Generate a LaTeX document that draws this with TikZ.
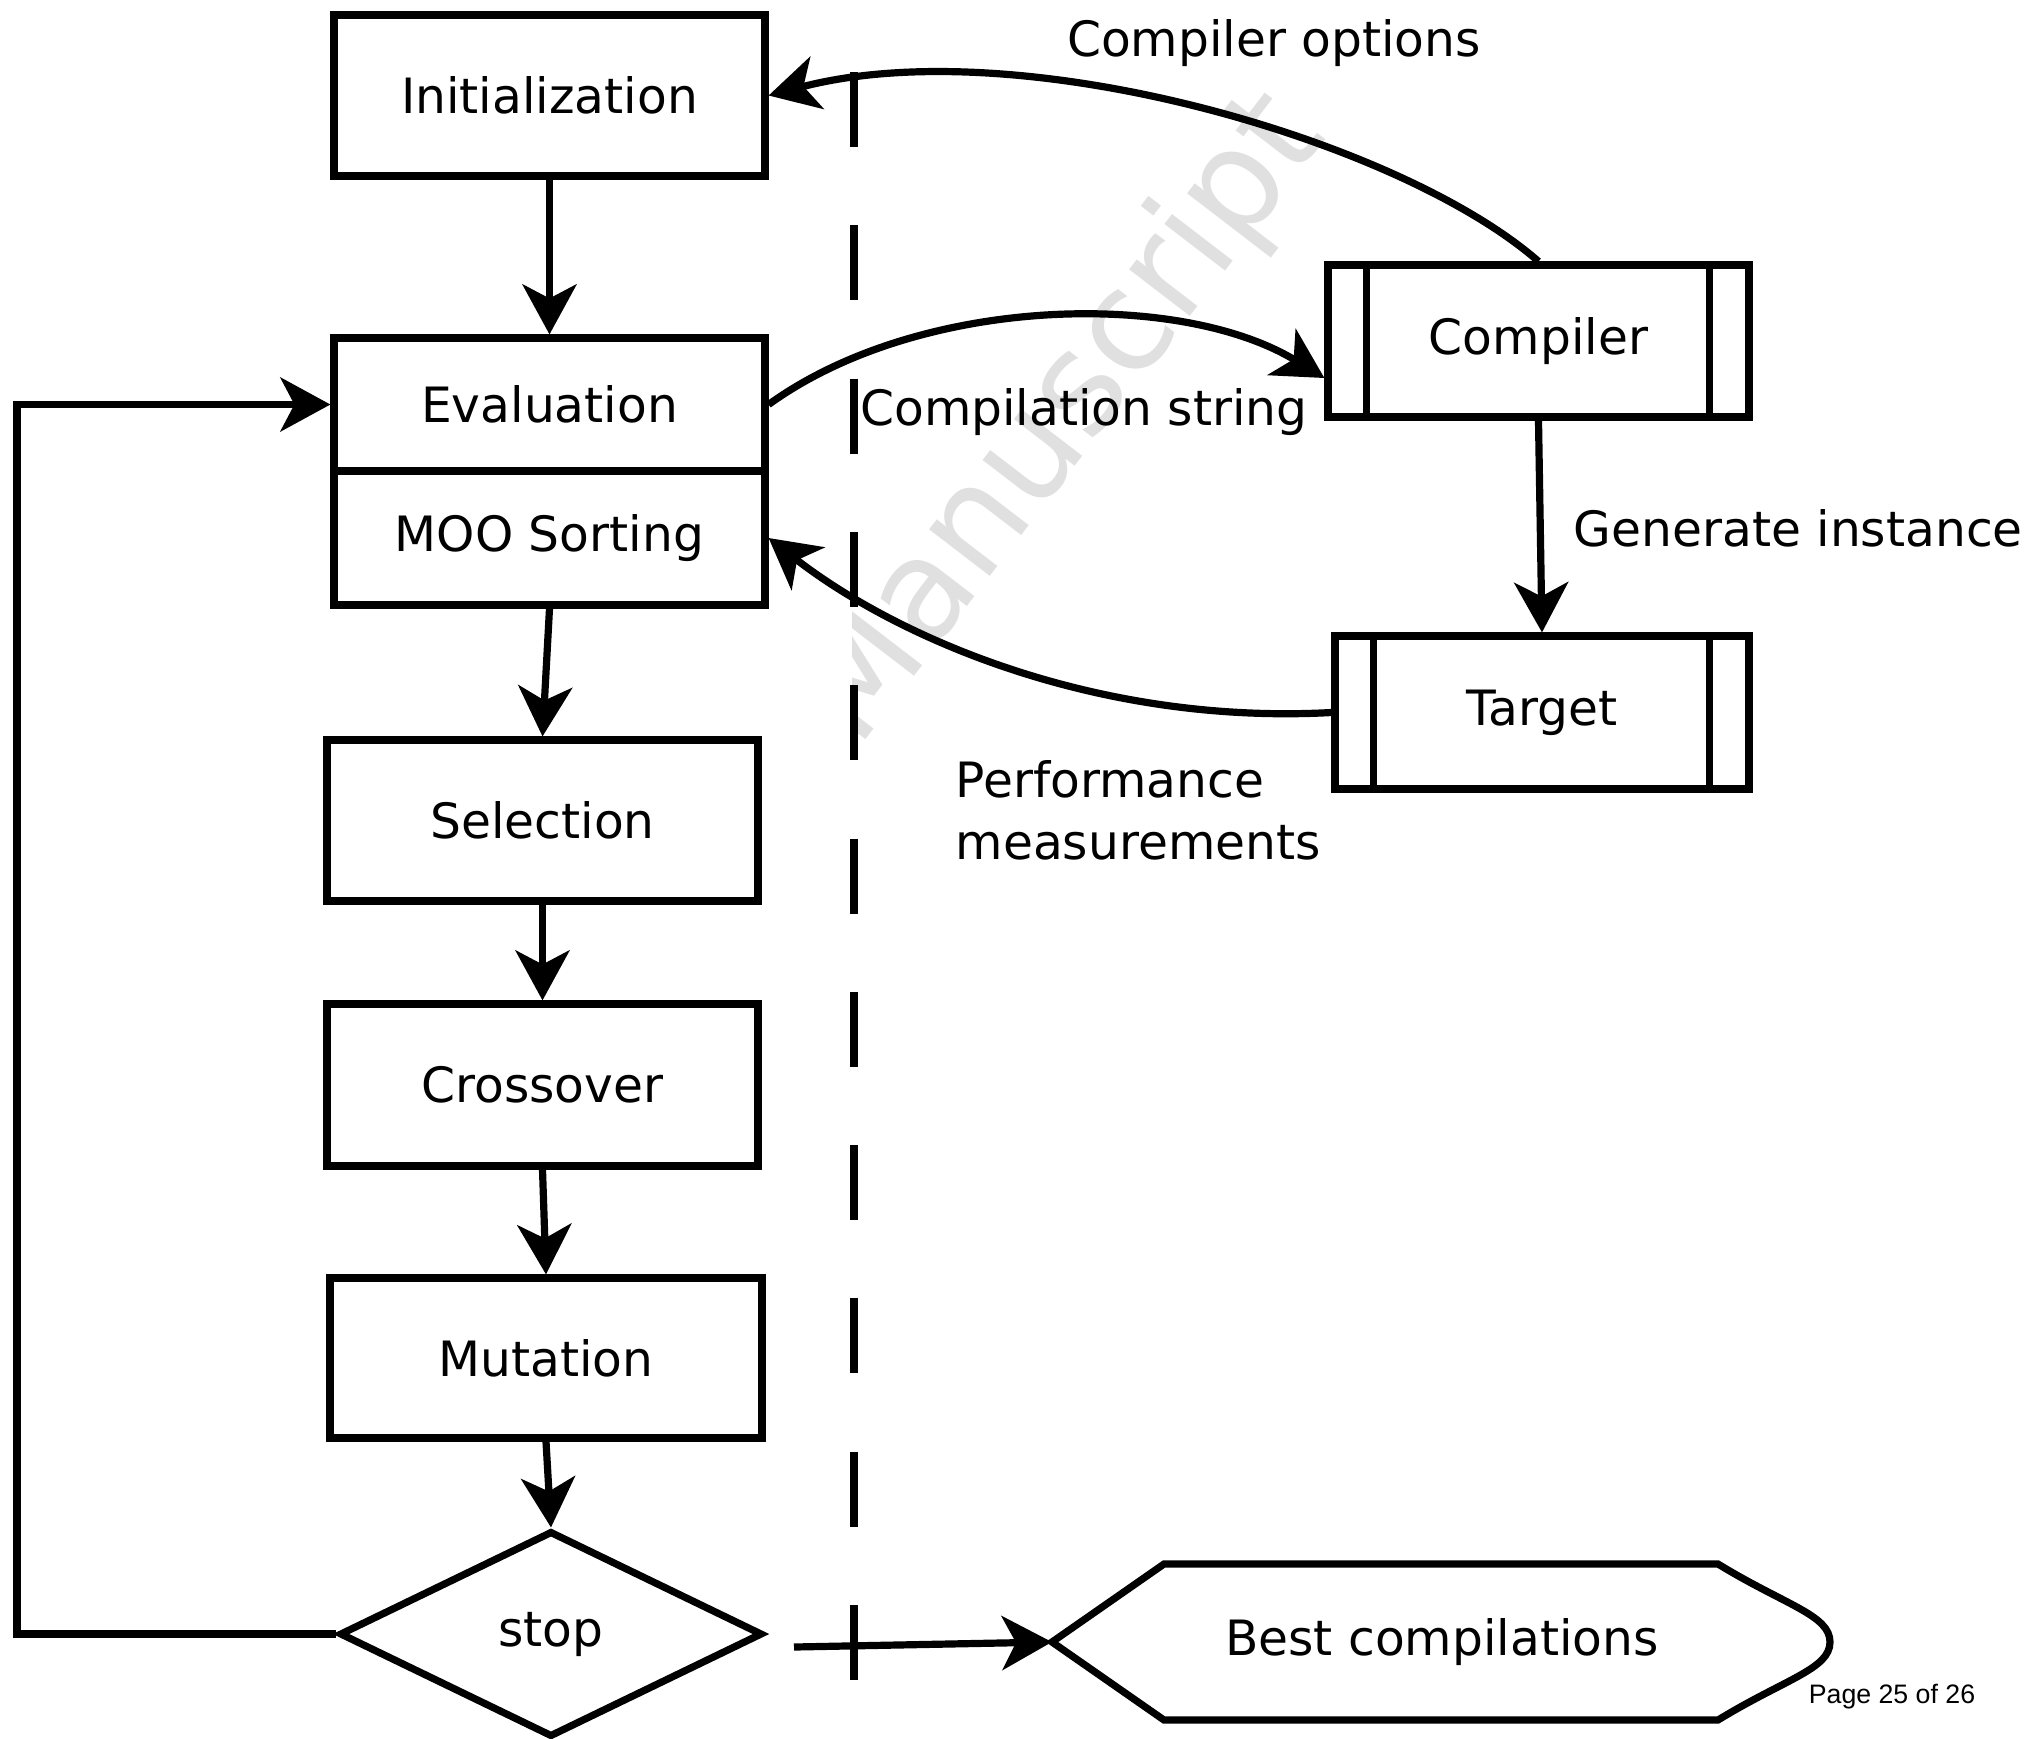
\documentclass[tikz,border=0pt]{standalone}
\usepackage{fontspec}
\setmainfont{DejaVu Sans}
\newfontfamily\pagefont{Liberation Sans}
\usetikzlibrary{arrows.meta,shapes.geometric,calc}
\begin{document}
\begin{tikzpicture}[x=0.1mm,y=-0.1mm,
  thickline/.style={line width=0.72mm},
  box/.style={draw,thickline,rectangle,inner sep=0pt,minimum width=43.1mm,
    font=\fontsize{13.85pt}{17.6pt}\selectfont},
  lbl/.style={inner sep=0pt,font=\fontsize{13.85pt}{17.6pt}\selectfont},
  arr/.style={thickline,-{Stealth[length=5mm,width=5.4mm,inset=1.4mm]}},
]
\useasboundingbox (0,0) rectangle (2024,1738);
\fill[white] (0,0) rectangle (2024,1738);

% watermark
\begin{scope}
\clip (852,0) rectangle (2024,1738);
\node[rotate=52.5,text=black!12,inner sep=0pt,font=\fontsize{39.8pt}{40pt}\selectfont] (wm) at (1062,420) {Manuscript};
\end{scope}

% dashed separator
\coordinate (dtop) at (854,72);
\coordinate (dbot) at (854,1682);
\draw[thickline,dash pattern=on 7.5mm off 7.83mm] (dtop) -- (dbot);

% left column
\node[box,minimum height=16.1mm] (init) at (549.5,95.5) {Initialization};
\node[box,minimum height=13.3mm] (eval) at (549.5,404.5) {Evaluation};
\node[box,minimum height=13.4mm] (moo) at (549.5,538) {MOO Sorting};
\node[box,minimum height=16.1mm] (sel) at (542.5,820.5) {Selection};
\node[box,minimum height=16.2mm] (cross) at (542.5,1085) {Crossover};
\node[box,minimum width=43.2mm,minimum height=16mm] (mut) at (546,1358) {Mutation};
\node[draw,thickline,diamond,inner sep=0pt,minimum width=42.3mm,minimum height=20.6mm,
  font=\fontsize{13.85pt}{17.6pt}\selectfont] (stop) at (551,1634) {stop};

% right column
\node[box,minimum width=42.1mm,minimum height=15.2mm] (comp) at (1538.5,341) {Compiler};
\draw[thickline] ([xshift=4.2mm]comp.north west) -- ([xshift=4.2mm]comp.south west);
\draw[thickline] ([xshift=-4.3mm]comp.north east) -- ([xshift=-4.3mm]comp.south east);
\node[box,minimum width=41.4mm,minimum height=15.3mm] (targ) at (1542,712.5) {Target};
\draw[thickline] ([xshift=4.2mm]targ.north west) -- ([xshift=4.2mm]targ.south west);
\draw[thickline] ([xshift=-4.3mm]targ.north east) -- ([xshift=-4.3mm]targ.south east);

% best compilations
\coordinate (bestL) at (1052,1642);
\draw[thickline,line join=miter] (bestL) -- (1164,1564) -- (1718,1564)
  .. controls (1785,1605) and (1830,1615) .. (1830,1642)
  .. controls (1830,1669) and (1785,1679) .. (1718,1720) -- (1164,1720) -- cycle;
\node[lbl] (best) at (1442,1642) {Best compilations};

% labels
\node[lbl] (lopts) at (1274,43) {Compiler options};
\node[lbl] (lstr) at (1084,412) {Compilation string};
\node[lbl,anchor=west] (lgen) at (1573,528) {Generate instance};
\node[lbl,anchor=west,align=left] (lperf) at (955,810) {Performance\\measurements};
\node[inner sep=0pt,font=\pagefont\fontsize{7.6pt}{9pt}\selectfont] (page) at (1892,1697) {Page 25 of 26};

% connectors
\draw[arr] (init.south) -- (eval.north);
\draw[arr] (moo.south) -- (sel.north);
\draw[arr] (sel.south) -- (cross.north);
\draw[arr] (cross.south) -- (mut.north);
\draw[arr] (mut.south) -- (stop.north);
\coordinate (lp) at (17,1000);
\draw[arr,line join=miter] (stop.west) -- (stop.west -| lp) |- (eval.west);
\coordinate (stopout) at (794,1647);
\draw[arr] (stopout) -- (bestL);
\draw[arr] (eval.east) .. controls (920,295) and (1180,290) .. ($(comp.west)+(0,37)$);
\draw[arr] (comp.north) .. controls (1400,140) and (1020,30) .. (init.east);
\draw[arr] (targ.west) .. controls (1100,725) and (900,640) .. (moo.east);
\draw[arr] (comp.south) -- (targ.north);
\end{tikzpicture}
\end{document}
